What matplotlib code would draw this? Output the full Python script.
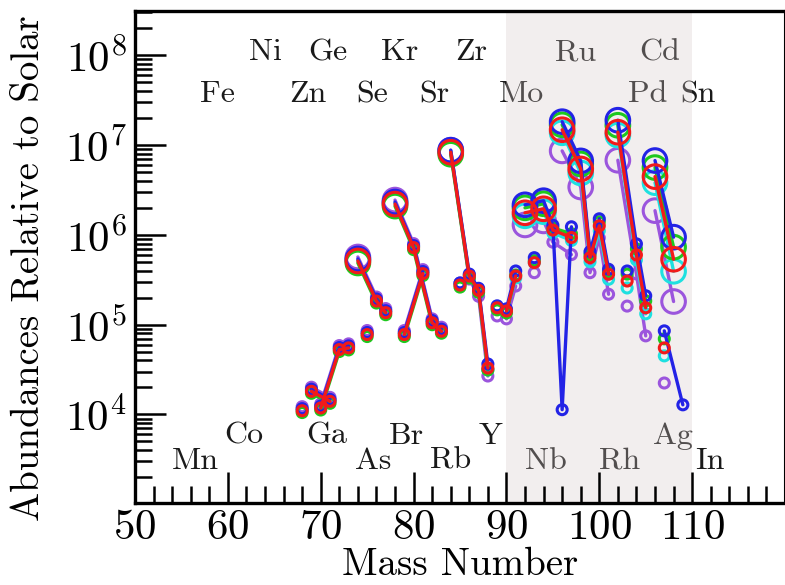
import numpy as np
import matplotlib
matplotlib.use("Agg")
import matplotlib.pyplot as plt
from matplotlib.ticker import FixedLocator, MultipleLocator, LogLocator, NullFormatter

plt.rcParams["font.family"] = "cmr10"
plt.rcParams["mathtext.fontset"] = "cm"
plt.rcParams["axes.formatter.use_mathtext"] = True

# ---- isotopes (element, mass number) ----
element = ["Zn", "Ga", "Ga", "Ge", "Ge", "Ge", "As", "Se", "Se", "Se",
           "Br", "Br", "Kr", "Kr", "Kr", "Kr", "Rb", "Sr", "Sr", "Sr",
           "Sr", "Y", "Zr", "Zr", "Nb", "Mo", "Mo", "Mo", "Mo", "Mo",
           "Ru", "Ru", "Ru", "Ru", "Ru", "Rh", "Pd", "Pd", "Pd", "Ag",
           "Ag", "Cd", "Cd"]
mass = [68, 69, 71, 70, 72, 73, 75, 74, 76, 77,
        79, 81, 78, 80, 82, 83, 85, 84, 86, 87,
        88, 89, 90, 91, 93, 92, 94, 95, 96, 97,
        96, 98, 99, 100, 101, 103, 102, 104, 105, 107,
        109, 106, 108]

# p-nuclei get the large circles
p_nuclei = ["Se74", "Kr78", "Sr84", "Mo92", "Mo94", "Ru96", "Ru98",
            "Pd102", "Cd106", "Cd108"]

nan = np.nan
abund_purple = [1.22e4, 2.01e4, 1.55e4, 1.31e4, 5.85e4, 6.11e4, 8.60e4, 5.67e5, 2.03e5, 1.51e5,
                8.60e4, 4.10e5, 2.44e6, 7.99e5, 1.16e5, 9.36e4, 2.91e5, 8.76e6, 3.22e5, 2.07e5,
                2.68e4, 1.25e5, 1.16e5, 2.69e5, 3.79e5, 1.29e6, 1.43e6, 8.29e5, nan, 6.03e5,
                8.61e6, 3.41e6, 3.79e5, 9.25e5, 2.18e5, 1.61e5, 6.77e6, 3.67e5, 7.50e4, 2.24e4,
                nan, 1.86e6, 1.81e5]
abund_cyan = [1.13e4, 1.86e4, 1.44e4, 1.21e4, 5.42e4, 5.65e4, 7.96e4, 5.25e5, 1.88e5, 1.40e5,
              7.96e4, 3.80e5, 2.26e6, 7.40e5, 1.08e5, 8.67e4, 2.83e5, 8.54e6, 3.57e5, 2.47e5,
              3.13e4, 1.54e5, 1.42e5, 3.31e5, 4.90e5, 1.63e6, 1.81e6, 1.05e6, nan, 8.65e5,
              1.37e7, 4.89e6, 5.02e5, 1.11e6, 3.20e5, 2.56e5, 1.29e7, 5.26e5, 1.32e5, 4.49e4,
              nan, 3.81e6, 3.93e5]
abund_green = [1.05e4, 1.72e4, 1.33e4, 1.12e4, 5.02e4, 5.23e4, 7.37e4, 4.86e5, 1.74e5, 1.29e5,
               7.37e4, 3.52e5, 2.09e6, 6.85e5, 9.98e4, 8.03e4, 2.62e5, 7.90e6, 3.31e5, 2.29e5,
               3.13e4, 1.46e5, 1.35e5, 3.57e5, 5.16e5, 2.00e6, 2.22e6, 1.19e6, nan, 1.03e6,
               1.68e7, 6.16e6, 6.02e5, 1.40e6, 3.83e5, 3.66e5, 1.66e7, 6.98e5, 1.84e5, 6.95e4,
               nan, 5.61e6, 7.29e5]
abund_blue = [1.16e4, 1.91e4, 1.47e4, 1.24e4, 5.56e4, 5.80e4, 8.17e4, 5.39e5, 1.93e5, 1.43e5,
              8.17e4, 3.90e5, 2.32e6, 7.59e5, 1.11e5, 8.90e4, 2.91e5, 8.76e6, 3.66e5, 2.54e5,
              3.65e4, 1.62e5, 1.50e5, 3.96e5, 5.57e5, 2.16e6, 2.40e6, 1.28e6, 1.13e4, 1.23e6,
              1.82e7, 6.66e6, 6.50e5, 1.51e6, 4.14e5, 3.96e5, 1.89e7, 7.94e5, 2.10e5, 8.53e4,
              1.28e4, 6.72e6, 9.42e5]
abund_red = [1.10e4, 1.81e4, 1.40e4, 1.18e4, 5.28e4, 5.51e4, 7.76e4, 5.12e5, 1.83e5, 1.36e5,
             7.76e4, 3.70e5, 2.20e6, 7.21e5, 1.05e5, 8.45e4, 2.76e5, 8.32e6, 3.48e5, 2.41e5,
             3.29e4, 1.54e5, 1.42e5, 3.48e5, 4.90e5, 1.76e6, 1.95e6, 1.13e6, nan, 9.34e5,
             1.48e7, 5.42e6, 5.57e5, 1.26e6, 3.64e5, 3.06e5, 1.39e7, 5.98e5, 1.54e5, 5.51e4,
             nan, 4.45e6, 5.35e5]

# element labels: symbol, mass position, baseline abundance
label_names = ["Ni", "Ge", "Kr", "Zr", "Ru", "Cd",
               "Fe", "Zn", "Se", "Sr", "Mo", "Pd", "Sn",
               "Co", "Ga", "Br", "Y", "Ag",
               "Mn", "As", "Rb", "Nb", "Rh", "In"]
label_x = [64.0, 70.8, 78.5, 86.2, 97.5, 106.5,
           58.9, 68.6, 75.5, 82.2, 91.6, 105.2, 110.6,
           61.7, 70.6, 79.2, 88.3, 107.9,
           56.5, 75.7, 84.0, 94.2, 102.2, 111.9]
label_y = [8.8e7] * 6 + [2.98e7] * 7 + [4.74e3] * 5 + [2.49e3] * 6

series = [("#9b55dd", abund_purple), ("#1ee0e0", abund_cyan),
          ("#1ec81e", abund_green), ("#2323e6", abund_blue),
          ("#f21a1a", abund_red)]

fig = plt.figure(figsize=(7.85, 5.85), dpi=100)
ax = fig.add_axes([0.172, 0.140, 0.828, 0.841])

ax.axvspan(90, 110, facecolor=(0.84, 0.79, 0.79), alpha=0.3, lw=0, zorder=1.5)

for name, xm, ym in zip(label_names, label_x, label_y):
    ax.text(xm, ym, name, ha="center", va="baseline", fontsize=23,
            color="#1a1a1a", zorder=1)

elements_order = list(dict.fromkeys(element))
for k, (col, vals) in enumerate(series):
    vals = np.asarray(vals, dtype=float)
    z = 3 + k
    for el in elements_order:
        idx = [i for i, e in enumerate(element) if e == el and not np.isnan(vals[i])]
        if len(idx) > 1:
            ax.plot([mass[i] for i in idx], vals[idx], "-", color=col, lw=2.4,
                    zorder=z, solid_capstyle="round")
    ok = ~np.isnan(vals)
    xs = np.array(mass)[ok]
    ys = vals[ok]
    big = np.array([f"{e}{m}" in p_nuclei for e, m in zip(element, mass)])[ok]
    sizes = np.where(big, 17.0, 7.2) ** 2
    ax.scatter(xs, ys, s=sizes, facecolors="none", edgecolors=col,
               linewidths=2.2, zorder=z + 0.5)

ax.set_yscale("log")
ax.set_xlim(50, 120)
ax.set_ylim(1.03e3, 3.1e8)

ax.xaxis.set_major_locator(FixedLocator([50, 60, 70, 80, 90, 100, 110]))
ax.xaxis.set_minor_locator(MultipleLocator(2))
ax.yaxis.set_major_locator(LogLocator(base=10, numticks=12))
ax.yaxis.set_minor_locator(LogLocator(base=10, subs=np.arange(2, 10), numticks=12))
ax.yaxis.set_minor_formatter(NullFormatter())

ax.tick_params(which="major", direction="in", length=22, width=1.8,
               labelsize=31, top=False, right=False, pad=6)
ax.tick_params(which="minor", direction="in", length=12, width=1.8,
               top=False, right=False)
ax.tick_params(axis="x", which="major", pad=5)

for side in ["left", "bottom", "top"]:
    ax.spines[side].set_linewidth(2.4)
ax.spines["right"].set_linewidth(1.5)

ax.set_xlabel("Mass Number", fontsize=28, labelpad=0)
ax.set_ylabel("Abundances Relative to Solar", fontsize=28)
ax.yaxis.set_label_coords(-0.135, 0.478)

fig.savefig("out.png", dpi=100)
